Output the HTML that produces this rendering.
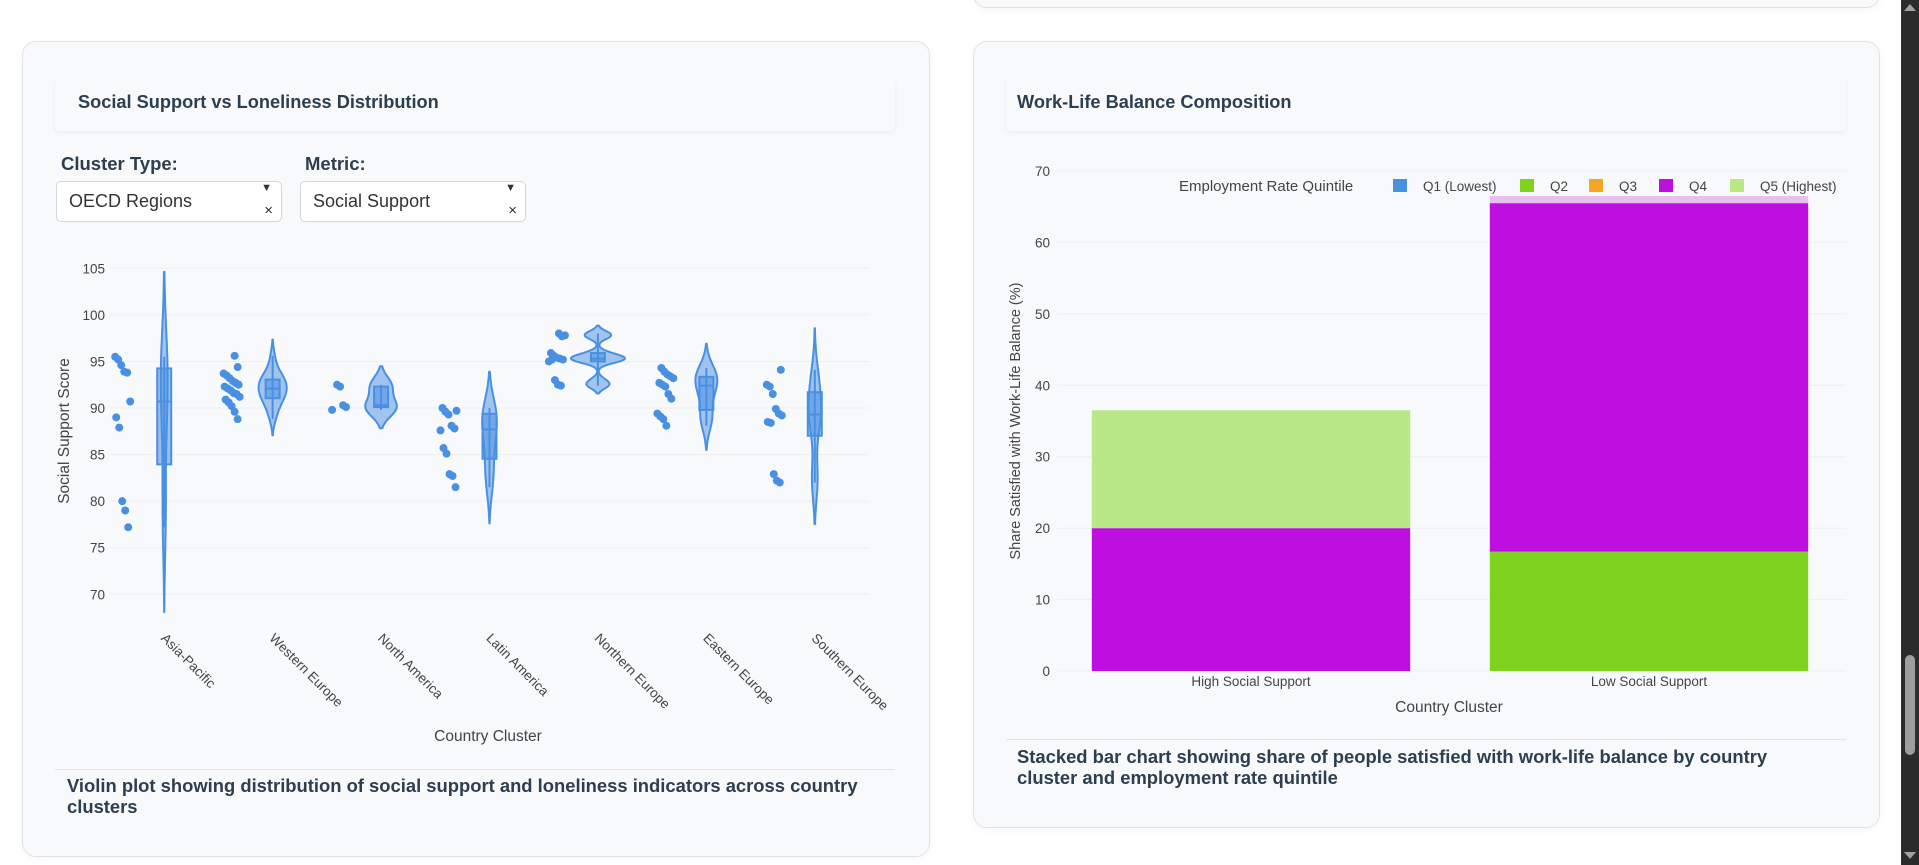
<!DOCTYPE html>
<html><head><meta charset="utf-8">
<style>
html,body{margin:0;padding:0;width:1919px;height:865px;overflow:hidden;background:#fff;font-family:"Liberation Sans",sans-serif;color:#2c3e50;}
.card{position:absolute;background:#f8f9fb;border:1px solid #dfe3e8;border-radius:14px;box-shadow:0 2px 8px rgba(0,0,0,0.04);}
.tbox{position:absolute;background:#f8f9fb;box-shadow:0 2px 5px rgba(0,0,0,0.05);border-radius:4px;}
.ttl{position:absolute;font-weight:bold;font-size:18.2px;color:#2c3e50;white-space:nowrap;}
.lbl{position:absolute;font-weight:bold;font-size:18.5px;color:#2c3e50;}
.dd{position:absolute;background:#fff;border:1px solid #cfd8dc;border-radius:5px;box-sizing:border-box;}
.dd span.v{position:absolute;left:12px;top:9px;font-size:18px;color:#333;}
.dd span.a{position:absolute;right:9px;top:0px;font-size:11px;color:#333;}
.dd span.x{position:absolute;right:8px;top:20px;font-size:15px;color:#333;}
.sep{position:absolute;height:1px;background:#dfe3e8;}
.cap{position:absolute;font-weight:bold;font-size:18.4px;line-height:21px;color:#2c3e50;}
</style></head><body>
<div class="card" style="left:973px;top:-100px;width:905px;height:106px;"></div>

<div class="card" style="left:22px;top:41px;width:906px;height:814px;"></div>
<div class="tbox" style="left:55px;top:77px;width:840px;height:54px;"></div>
<div class="ttl" style="left:78px;top:92px;">Social Support vs Loneliness Distribution</div>
<div class="lbl" style="left:61px;top:153px;">Cluster Type:</div>
<div class="lbl" style="left:305px;top:153px;">Metric:</div>
<div class="dd" style="left:56px;top:181px;width:226px;height:41px;"><span class="v">OECD Regions</span><span class="a">▼</span><span class="x">×</span></div>
<div class="dd" style="left:300px;top:181px;width:226px;height:41px;"><span class="v">Social Support</span><span class="a">▼</span><span class="x">×</span></div>
<div class="sep" style="left:55px;top:769px;width:840px;"></div>
<div class="cap" style="left:67px;top:775px;width:815px;">Violin plot showing distribution of social support and loneliness indicators across country clusters</div>

<div class="card" style="left:973px;top:41px;width:905px;height:785px;"></div>
<div class="tbox" style="left:1006px;top:77px;width:840px;height:54px;"></div>
<div class="ttl" style="left:1017px;top:92px;">Work-Life Balance Composition</div>
<div class="sep" style="left:1006px;top:739px;width:840px;"></div>
<div class="cap" style="left:1017px;top:746px;width:790px;">Stacked bar chart showing share of people satisfied with work-life balance by country cluster and employment rate quintile</div>

<div style="position:absolute;left:1901px;top:0;width:18px;height:865px;background:#2b2b2b;">
<div style="position:absolute;left:3px;top:4px;width:0;height:0;border-left:6px solid transparent;border-right:6px solid transparent;border-bottom:7px solid #a0a0a0;"></div>
<div style="position:absolute;left:4px;top:655px;width:10px;height:100px;background:#9e9e9e;border-radius:5px;"></div>
<div style="position:absolute;left:3px;top:852px;width:0;height:0;border-left:6px solid transparent;border-right:6px solid transparent;border-top:7px solid #a0a0a0;"></div>
</div>

<svg id="v" width="1919" height="865" style="position:absolute;left:0;top:0;pointer-events:none;font-family:'Liberation Sans',sans-serif"></svg>
<svg id="b" width="1919" height="865" style="position:absolute;left:0;top:0;pointer-events:none;font-family:'Liberation Sans',sans-serif"></svg>

<script>
const NS='http://www.w3.org/2000/svg';
function mk(p,t,a){const e=document.createElementNS(NS,t);for(const k in a)e.setAttribute(k,a[k]);p.appendChild(e);return e;}

/* ---- Violin data ---- */
const clusters=['Asia-Pacific','Western Europe','North America','Latin America','Northern Europe','Eastern Europe','Southern Europe'];
const asiaPacific=[95.5,95.2,94.6,93.9,93.8,90.7,89.0,87.9,80.0,79.0,77.2];
const westernEurope=[95.6,94.4,93.7,93.5,93.2,92.9,92.7,92.5,92.3,92.1,91.9,91.6,91.5,91.2,90.9,90.6,90.2,89.6,88.8];
const northAmerica=[92.5,92.3,90.3,90.1,89.8];
const latinAmerica=[89.7,90.0,89.6,89.3,88.1,87.8,87.6,85.7,85.1,82.9,82.7,81.5];
const northernEurope=[98.0,97.7,97.8,95.9,95.6,95.4,95.3,95.2,95.0,95.2,93.0,92.5,92.4];
const easternEurope=[94.3,93.9,93.6,93.4,93.2,92.7,92.5,92.3,91.5,91.0,89.4,89.1,88.8,88.1];
const southernEurope=[94.1,92.5,92.3,91.5,89.9,89.4,89.2,88.5,88.4,82.9,82.2,82.0];
const groups=[asiaPacific,westernEurope,northAmerica,latinAmerica,northernEurope,easternEurope,southernEurope];
const vTicks=[70,75,80,85,90,95,100,105];

const vs=document.getElementById('v');
const X0=110,X1=869,yV=v=>268.3+(105-v)*9.314;
const xC=i=>X0+(i+0.5)*(X1-X0)/clusters.length;
vTicks.forEach(t=>{
  const g=mk(vs,'line',{x1:X0,x2:X1,y1:yV(t),y2:yV(t),stroke:'#eceff3','stroke-width':1});
  
  
  const tx=mk(vs,'text',{x:105,y:yV(t)+5,'text-anchor':'end','font-size':13.5,fill:'#444'});tx.textContent=t;
  
  
});
function q(a,p){const s=[...a].sort((x,y)=>x-y);const n=s.length;const pos=(n-1)*p;const lo=Math.floor(pos);return s[lo]+(s[Math.min(lo+1,n-1)]-s[lo])*(pos-lo);}
const kd=groups.map(a=>{
  const n=a.length,m=a.reduce((s,x)=>s+x,0)/n;
  const sd=Math.sqrt(a.reduce((s,x)=>s+(x-m)*(x-m),0)/(n-1));
  const iqr=q(a,0.75)-q(a,0.25);
  const bw=1.059*Math.min(sd,iqr>0?iqr/1.349:sd)*Math.pow(n,-0.2);
  const lo=Math.min(...a)-2*bw,hi=Math.max(...a)+2*bw;const pts=[];
  for(let k=0;k<=120;k++){const y=lo+(hi-lo)*k/120;let d=0;a.forEach(x=>{d+=Math.exp(-0.5*((y-x)/bw)**2);});pts.push([y,d/(n*bw*Math.sqrt(2*Math.PI))]);}
  return pts;});
const maxD=Math.max(...kd.map(p=>Math.max(...p.map(z=>z[1]))));
const sc=27/maxD;
groups.forEach((a,i)=>{
  const cx=xC(i),pts=kd[i];
  let d='M'+pts.map(p=>(cx+p[1]*sc).toFixed(1)+','+yV(p[0]).toFixed(1)).join('L');
  d+='L'+pts.slice().reverse().map(p=>(cx-p[1]*sc).toFixed(1)+','+yV(p[0]).toFixed(1)).join('L')+'Z';
  const vp=mk(vs,'path',{d:d,fill:'rgba(74,144,226,0.5)',stroke:'#4a90e2','stroke-width':2,'stroke-linejoin':'round'});
  
  
  const wl=mk(vs,'line',{x1:cx,x2:cx,y1:yV(Math.max(...a)),y2:yV(Math.min(...a)),stroke:'#4a90e2','stroke-width':2});
  
  
  const q1=q(a,0.25),q3=q(a,0.75),md=q(a,0.5);
  const bx=mk(vs,'rect',{x:cx-7,y:yV(q3),width:14,height:yV(q1)-yV(q3),fill:'rgba(74,144,226,0.55)',stroke:'#4a90e2','stroke-width':2});
  
  
  const ml=mk(vs,'line',{x1:cx-7,x2:cx+7,y1:yV(md),y2:yV(md),stroke:'#4a90e2','stroke-width':2});
  
  
  a.forEach((v,j)=>{
    const jit=((j*37+i*11)%17)-8;
    const c=mk(vs,'circle',{cx:cx-41+jit*1.0,cy:yV(v),r:4,fill:'#4a90e2'});
    
    
  });
  const t=mk(vs,'text',{x:0,y:0,'font-size':13.5,fill:'#444',transform:`translate(${cx-4},${639}) rotate(45)`});t.textContent=clusters[i];
  
  
});
let t1=mk(vs,'text',{x:488,y:741,'text-anchor':'middle','font-size':15.5,fill:'#444'});t1.textContent='Country Cluster';


let t2=mk(vs,'text',{x:0,y:0,'text-anchor':'middle','font-size':15.5,fill:'#444',transform:'translate(69,431) rotate(-90)'});t2.textContent='Social Support Score';



/* ---- Bar data ---- */
const barCats=['High Social Support','Low Social Support'];
const q1Vals=[0,0];
const q2Vals=[0,16.7];
const q3Vals=[0,0];
const q4Vals=[20,48.8];
const q5Vals=[16.5,0];
const q4Highlight=[0,1.0];
const seriesNames=['Q1 (Lowest)','Q2','Q3','Q4','Q5 (Highest)'];
const seriesColors=['#4a90e2','#7ed321','#f5a623','#bd10e0','#b8e986'];
const bTicks=[0,10,20,30,40,50,60,70];

const bs=document.getElementById('b');
const B0=1052,B1=1848,yB=v=>671-v*(500/70);
const xB=i=>B0+(i+0.5)*(B1-B0)/barCats.length;
const bw2=(B1-B0)/barCats.length*0.8;
bTicks.forEach(t=>{
  const g=mk(bs,'line',{x1:1057,x2:1846,y1:yB(t),y2:yB(t),stroke:'#eceff3','stroke-width':1});
  
  
  const tx=mk(bs,'text',{x:1050,y:yB(t)+5,'text-anchor':'end','font-size':13.5,fill:'#444'});tx.textContent=t;
  
  
});
const allS=[q1Vals,q2Vals,q3Vals,q4Vals,q5Vals];
barCats.forEach((c,i)=>{
  let base=0;
  allS.forEach((s,k)=>{
    const v=s[i];if(v<=0)return;
    const r=mk(bs,'rect',{x:xB(i)-bw2/2,y:yB(base+v),width:bw2,height:yB(base)-yB(base+v),fill:seriesColors[k]});
    
    
    base+=v;
  });
  if(q4Highlight[i]>0){
    const h=mk(bs,'rect',{x:xB(i)-bw2/2,y:yB(base+q4Highlight[i]),width:bw2,height:yB(base)-yB(base+q4Highlight[i]),fill:'#e8c0ee'});
    
    
  }
  const t=mk(bs,'text',{x:xB(i),y:686,'text-anchor':'middle','font-size':13.5,fill:'#444'});t.textContent=c;
  
  
});
let lt=mk(bs,'text',{x:1179,y:191,'font-size':15,fill:'#444'});lt.textContent='Employment Rate Quintile';


const legX=[1393,1520,1589,1659,1730];
seriesNames.forEach((n,k)=>{
  const r=mk(bs,'rect',{x:legX[k],y:179,width:14,height:13,fill:seriesColors[k]});
  
  
  const t=mk(bs,'text',{x:legX[k]+30,y:191,'font-size':13.5,fill:'#444'});t.textContent=n;
  
  
});
let t3=mk(bs,'text',{x:1449,y:712,'text-anchor':'middle','font-size':15.5,fill:'#444'});t3.textContent='Country Cluster';


let t4=mk(bs,'text',{x:0,y:0,'text-anchor':'middle','font-size':14.5,fill:'#444',transform:'translate(1020,421) rotate(-90)'});t4.textContent='Share Satisfied with Work-Life Balance (%)';


</script>
</body></html>
